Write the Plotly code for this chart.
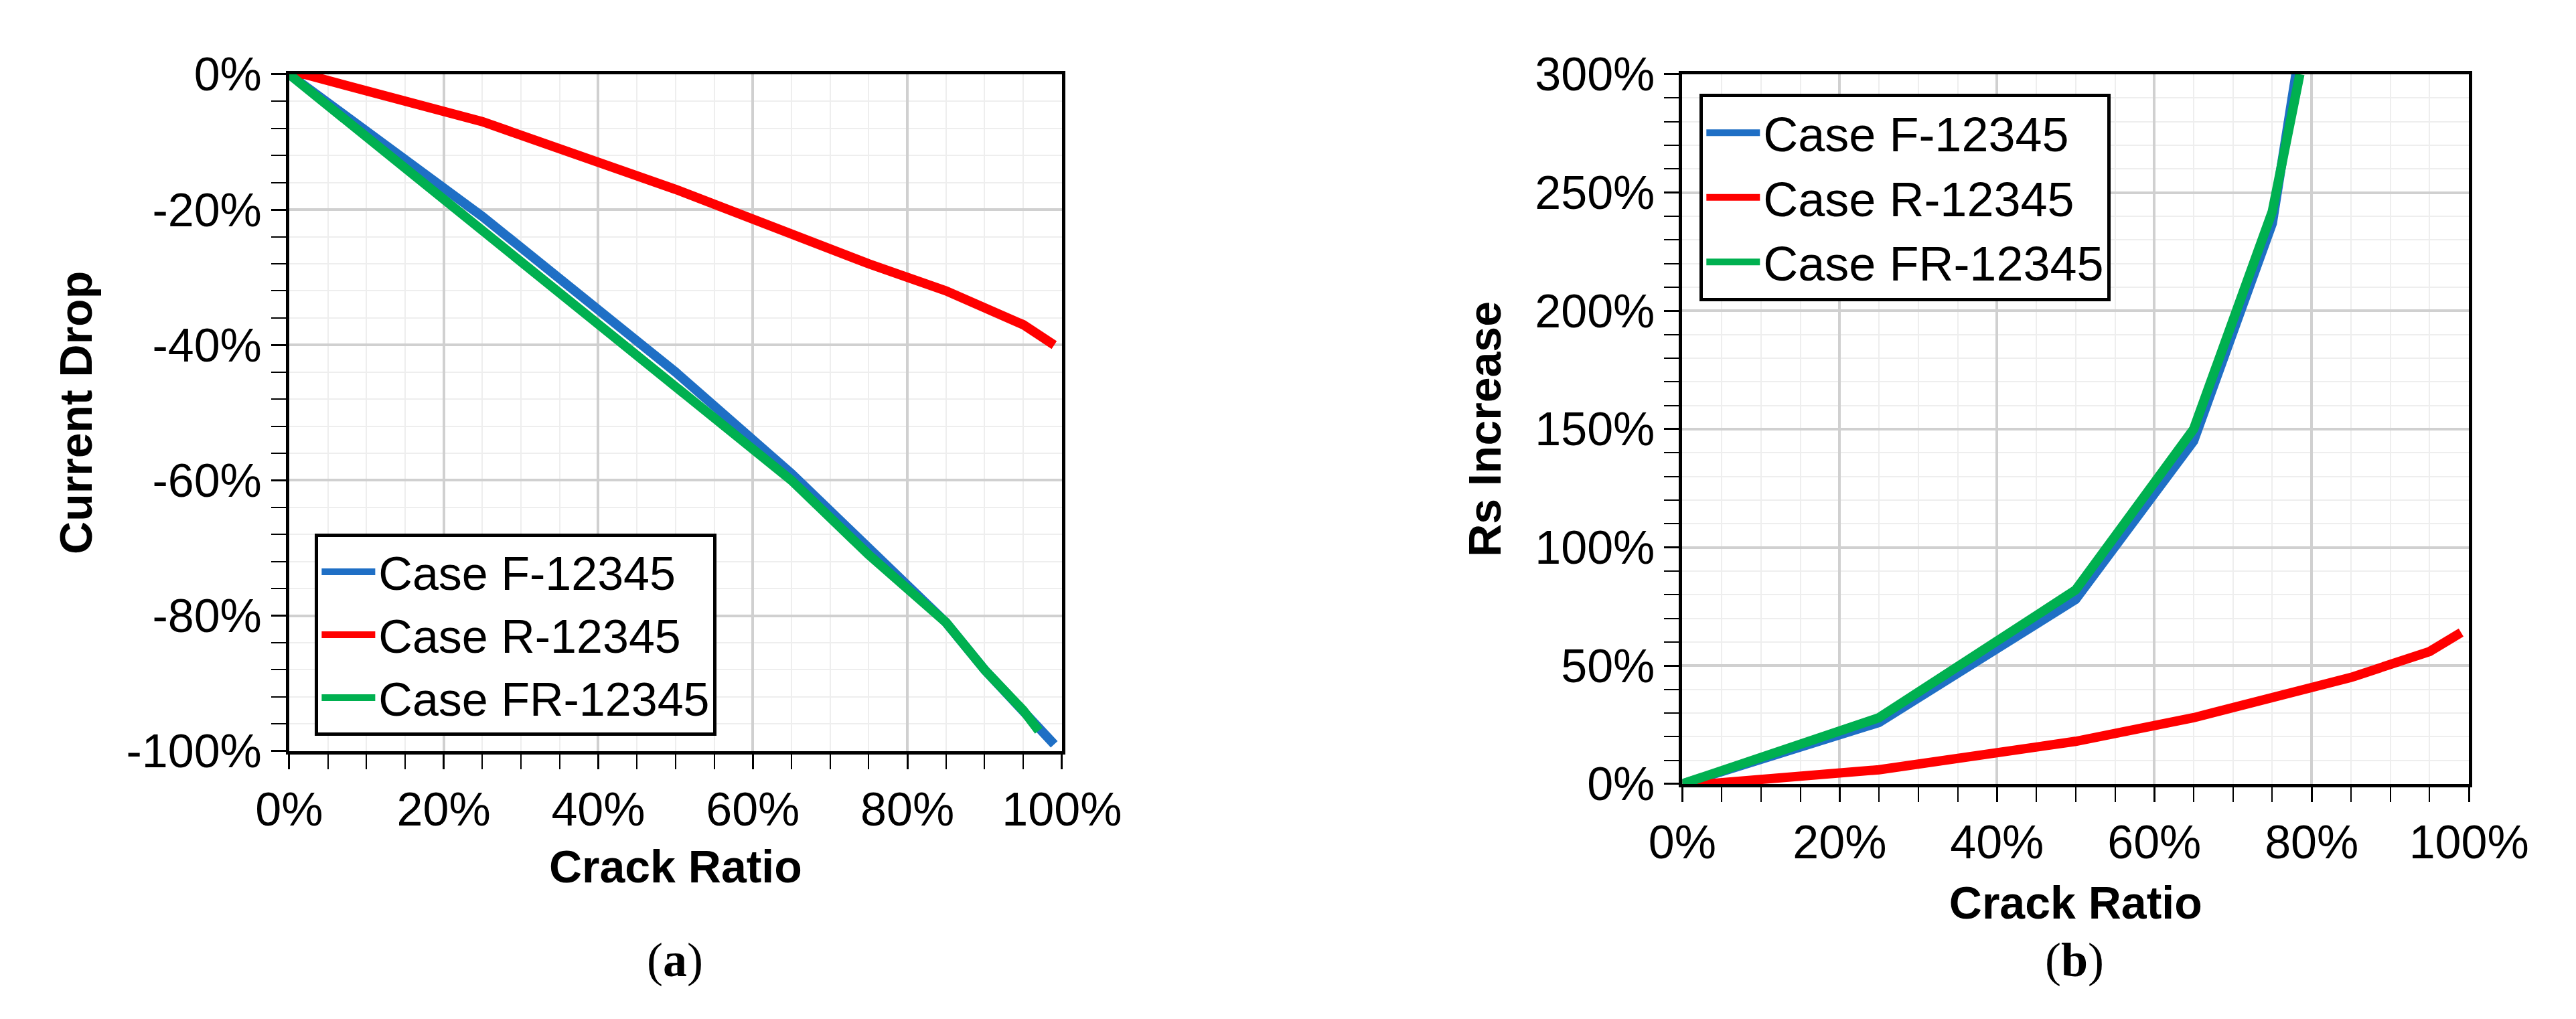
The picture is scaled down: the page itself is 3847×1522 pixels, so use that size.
import plotly.graph_objects as go

# Panel (a): Current drop
xa_F = [0, 25, 50, 65, 75, 85, 90, 95, 99]
ya_F = [0, -21, -44, -59, -70, -81, -88, -94, -99]
xa_R = [0, 2, 25, 50, 75, 85, 95, 99]
ya_R = [0, 0, -7, -17, -28, -32, -37, -40]
xa_FR = [0, 25, 50, 65, 75, 85, 90, 95, 97]
ya_FR = [0, -23, -46, -60, -71, -81, -88, -94, -97]
ya_ticks = [0, -20, -40, -60, -80, -100]
ya_ticklabels = ["0%", "-20%", "-40%", "-60%", "-80%", "-100%"]

# Panel (b): Rs increase
xb_F = [0, 25, 50, 65, 75, 78]
yb_F = [0, 26, 78, 145, 237, 300]
xb_R = [0, 3, 25, 50, 65, 75, 85, 95, 99]
yb_R = [0, 0, 6, 18, 28, 36, 45, 56, 64]
xb_FR = [0, 25, 50, 65, 75, 78.5]
yb_FR = [0, 28, 82, 150, 242, 300]

names = ["Case F-12345", "Case R-12345", "Case FR-12345"]
colors = ["#1F6FC5", "#FF0000", "#00B050"]

fig = go.Figure()
for xs, ys, n, c in zip([xa_F, xa_R, xa_FR], [ya_F, ya_R, ya_FR], names, colors):
    fig.add_trace(go.Scatter(x=xs, y=ys, name=n, mode="lines", line=dict(color=c, width=14),
                             xaxis="x", yaxis="y", legend="legend"))
for xs, ys, n, c in zip([xb_F, xb_R, xb_FR], [yb_F, yb_R, yb_FR], names, colors):
    fig.add_trace(go.Scatter(x=xs, y=ys, name=n, mode="lines", line=dict(color=c, width=14),
                             xaxis="x2", yaxis="y2", legend="legend2"))

tickfont = dict(family="Liberation Sans Narrow, Liberation Sans", size=70, color="black")
titlefont = dict(family="Liberation Sans Narrow, Liberation Sans", size=68, color="black", weight="bold")

def ax(**kw):
    d = dict(showline=True, linecolor="black", linewidth=5, mirror=True,
             showgrid=True, gridcolor="#D0D0D0", gridwidth=4,
             ticks="outside", ticklen=22, tickwidth=3, tickcolor="black",
             ticksuffix="%", tickfont=tickfont, zeroline=False,
             minor=dict(showgrid=True, gridcolor="#EEEEEE", gridwidth=2,
                        ticks="outside", ticklen=22, tickwidth=2, tickcolor="black"))
    d.update(kw)
    return d

fig.update_layout(
    width=3847, height=1522, plot_bgcolor="white", paper_bgcolor="white",
    margin=dict(l=0, r=0, t=0, b=0), showlegend=True,
    xaxis=ax(domain=[0.1006, 0.412], range=[0, 100], dtick=20, anchor="y",
             minor_dtick=5,
             title=dict(text="Crack Ratio", font=titlefont, standoff=25)),
    yaxis=ax(domain=[0.255, 0.955], range=[-100, 0], anchor="x",
             tickmode="array", tickvals=ya_ticks, ticktext=ya_ticklabels, ticksuffix="",
             minor=dict(showgrid=True, gridcolor="#EEEEEE", gridwidth=2, dtick=4, tick0=0,
                        ticks="outside", ticklen=22, tickwidth=2, tickcolor="black"),
             title=dict(text="Current Drop", font=titlefont, standoff=30)),
    xaxis2=ax(domain=[0.662, 0.979], range=[0, 100], dtick=20, anchor="y2",
              minor_dtick=5,
              title=dict(text="Crack Ratio", font=titlefont, standoff=30)),
    yaxis2=ax(domain=[0.221, 0.955], range=[0, 300], dtick=50, anchor="x2",
              minor_dtick=10,
              title=dict(text="Rs Increase", font=titlefont, standoff=30)),
    legend=dict(x=0.111, y=0.48, xanchor="left", yanchor="top", bgcolor="white",
                bordercolor="black", borderwidth=5, font=tickfont, tracegroupgap=0,
                itemwidth=80),
    legend2=dict(x=0.669, y=0.935, xanchor="left", yanchor="top", bgcolor="white",
                 bordercolor="black", borderwidth=5, font=dict(tickfont, size=72),
                 tracegroupgap=25, itemwidth=80),
    annotations=[
        dict(text="(<b>a</b>)", x=0.256, y=0.01, xref="paper", yref="paper",
             xanchor="center", yanchor="bottom", showarrow=False,
             font=dict(family="Liberation Serif", size=72, color="black")),
        dict(text="(<b>b</b>)", x=0.82, y=0.01, xref="paper", yref="paper",
             xanchor="center", yanchor="bottom", showarrow=False,
             font=dict(family="Liberation Serif", size=72, color="black")),
    ],
)
fig.write_html("out.html")
